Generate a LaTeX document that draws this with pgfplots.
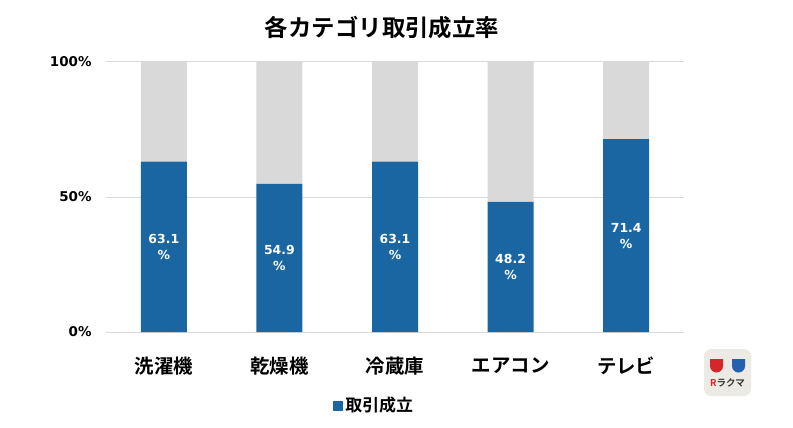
\documentclass[border=0pt]{standalone}
\usepackage{pgfplots}
\pgfplotsset{compat=1.18}
\usepackage{fontspec}
\setmainfont{DejaVu Sans}
\newfontfamily\jp{Noto Sans CJK JP}[BoldFont={Noto Sans CJK JP Bold}]
\definecolor{barblue}{HTML}{1A66A3}
\definecolor{bargray}{HTML}{D9D9D9}
\definecolor{gridgray}{HTML}{D9D9D9}
\definecolor{logobg}{HTML}{ECEAE5}
\definecolor{logored}{HTML}{D7262B}
\definecolor{logoblue}{HTML}{2560B0}
\pgfplotstableread{
x blue gray mid
0 63.1 36.9 31.55
1 54.9 45.1 27.45
2 63.1 36.9 31.55
3 48.2 51.8 24.1
4 71.4 28.6 35.7
}\datatable
\begin{document}
\begin{tikzpicture}[x=1bp,y=1bp]
\useasboundingbox (0,0) rectangle (793,427);
\begin{axis}[
  at={(106bp,95bp)}, anchor=south west,
  scale only axis, width=578bp, height=270bp,
  xmin=-0.5, xmax=4.5, ymin=0, ymax=100,
  ybar stacked, bar width=46bp,
  axis line style={draw=none},
  major tick length=0pt,
  ymajorgrids, grid style={gridgray, line width=1bp},
  ytick={0,50,100},
  yticklabels={0\%,50\%,100\%},
  yticklabel style={font=\bfseries\fontsize{13.5}{15}\selectfont, xshift=-11bp},
  xtick={0,1,2,3,4},
  xticklabels={洗濯機,乾燥機,冷蔵庫,エアコン,テレビ},
  xticklabel style={font=\jp\bfseries\fontsize{19.5}{22}\selectfont, anchor=center, yshift=-34bp},
  legend style={at={(0.464,-0.27)}, anchor=center, draw=none, fill=none,
    font=\jp\bfseries\fontsize{17}{19}\selectfont, inner sep=0pt},
  legend image code/.code={\fill[barblue] (0bp,-6bp) rectangle (10bp,4bp);},
]
\addplot[fill=barblue, draw=none] table[x=x, y=blue] {\datatable};
\addlegendentry{取引成立}
\addplot[fill=bargray, draw=none, forget plot] table[x=x, y=gray] {\datatable};
\end{axis}
\begin{axis}[
  at={(106bp,95bp)}, anchor=south west,
  scale only axis, width=578bp, height=270bp,
  xmin=-0.5, xmax=4.5, ymin=0, ymax=100,
  hide axis,
]
\addplot[draw=none, mark=none, point meta=explicit,
  nodes near coords={\pgfmathprintnumber[fixed,fixed zerofill,precision=1,assume math mode=true]{\pgfplotspointmeta}\\\%},
  nodes near coords style={anchor=center, align=center, text=white,
    font=\bfseries\fontsize{12.5}{16}\selectfont},
] table[x=x, y=mid, meta=blue] {\datatable};
\end{axis}
\node[font=\jp\bfseries\fontsize{23.5}{26}\selectfont] at (382,399) {各カテゴリ取引成立率};
% logo
\fill[logobg, rounded corners=7bp] (704,31) rectangle (751,78);
\fill[logored] (710,68) -- (710,61) arc[start angle=180, end angle=360, radius=6.5bp] -- (723,68) -- cycle;
\fill[logoblue] (732,68) -- (732,61) arc[start angle=180, end angle=360, radius=6.5bp] -- (745,68) -- cycle;
\node[font=\jp\bfseries\fontsize{9.5}{10}\selectfont, text=black!80] at (727.5,44) {{\color{logored}R}ラクマ};
\end{tikzpicture}
\end{document}
